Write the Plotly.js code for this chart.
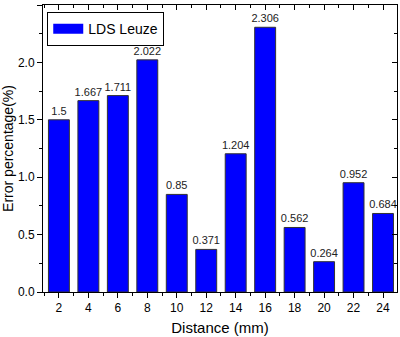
<!DOCTYPE html>
<html>
<head>
<meta charset="utf-8">
<script src="https://cdn.plot.ly/plotly-3.0.1.min.js"></script>
<style>
  html, body { margin: 0; padding: 0; background: #fff; }
  #chart { width: 400px; height: 337px; }
</style>
</head>
<body>
<div id="chart"></div>
<script>
// Measurement distances (mm) and error percentages for the LDS Leuze sensor
const distances = [2, 4, 6, 8, 10, 12, 14, 16, 18, 20, 22, 24];
const errorPct = [1.5, 1.667, 1.711, 2.022, 0.85, 0.371, 1.204, 2.306, 0.562, 0.264, 0.952, 0.684];
const valueLabels = ['1.5', '1.667', '1.711', '2.022', '0.85', '0.371', '1.204', '2.306', '0.562', '0.264', '0.952', '0.684'];
const seriesName = 'LDS Leuze';

const xRange = [0.92, 24.95];
const yRange = [0, 2.5];
const font = '"Liberation Sans", Arial, sans-serif';
const barBlue = '#0000ff';

const bars = {
  type: 'bar',
  x: distances,
  y: errorPct,
  name: seriesName,
  width: 1.42,
  marker: { color: barBlue, line: { color: '#333333', width: 1 } },
  text: valueLabels,
  textposition: 'outside',
  constraintext: 'none',
  textfont: { family: font, size: 11, color: '#222' },
  cliponaxis: false,
  showlegend: false
};

// Legend entry drawn as a wide filled swatch
const legendSwatch = {
  type: 'scatter',
  mode: 'lines',
  x: [null],
  y: [null],
  name: seriesName,
  line: { color: barBlue, width: 12 },
  showlegend: true,
  hoverinfo: 'skip'
};

// Empty trace that pins the mirrored top/right axes
const frameTrace = {
  type: 'scatter', x: [], y: [], xaxis: 'x2', yaxis: 'y2',
  showlegend: false, hoverinfo: 'skip'
};

const axisBase = {
  showline: true,
  linecolor: '#000',
  linewidth: 1,
  showgrid: false,
  zeroline: false,
  ticklen: 5,
  tickwidth: 1,
  tickcolor: '#000',
  tickfont: { family: font, size: 12, color: '#000' }
};

const layout = {
  width: 400,
  height: 337,
  margin: { l: 43, r: 3, t: 5, b: 45 },
  paper_bgcolor: '#fff',
  plot_bgcolor: '#fff',
  bargap: 0,
  font: { family: font, color: '#000' },
  xaxis: Object.assign({}, axisBase, {
    range: xRange,
    tickvals: distances,
    ticks: 'outside',
    minor: { dtick: 1, tick0: 1, ticks: 'outside', ticklen: 3, tickcolor: '#000' },
    title: { text: 'Distance (mm)', font: { family: font, size: 15 }, standoff: 8 }
  }),
  yaxis: Object.assign({}, axisBase, {
    range: yRange,
    dtick: 0.5,
    tickformat: '.1f',
    ticks: 'outside',
    minor: { dtick: 0.25, ticks: 'outside', ticklen: 3, tickcolor: '#000' },
    title: { text: 'Error percentage(%)', font: { family: font, size: 14 }, standoff: 8 }
  }),
  xaxis2: Object.assign({}, axisBase, {
    overlaying: 'x',
    side: 'top',
    range: xRange,
    tickvals: distances,
    ticks: 'inside',
    showticklabels: false,
    minor: { dtick: 1, tick0: 1, ticks: 'inside', ticklen: 3, tickcolor: '#000' }
  }),
  yaxis2: Object.assign({}, axisBase, {
    overlaying: 'y',
    side: 'right',
    range: yRange,
    dtick: 0.5,
    ticks: 'inside',
    showticklabels: false,
    minor: { dtick: 0.25, ticks: 'inside', ticklen: 3, tickcolor: '#000' }
  }),
  legend: {
    x: 0.012,
    y: 0.975,
    xanchor: 'left',
    yanchor: 'top',
    bgcolor: '#fff',
    bordercolor: '#000',
    borderwidth: 1,
    font: { family: font, size: 14, color: '#000' },
    itemwidth: 30,
    tracegroupgap: 0
  }
};

Plotly.newPlot('chart', [bars, frameTrace, legendSwatch], layout, { staticPlot: true, displayModeBar: false });
</script>
</body>
</html>
